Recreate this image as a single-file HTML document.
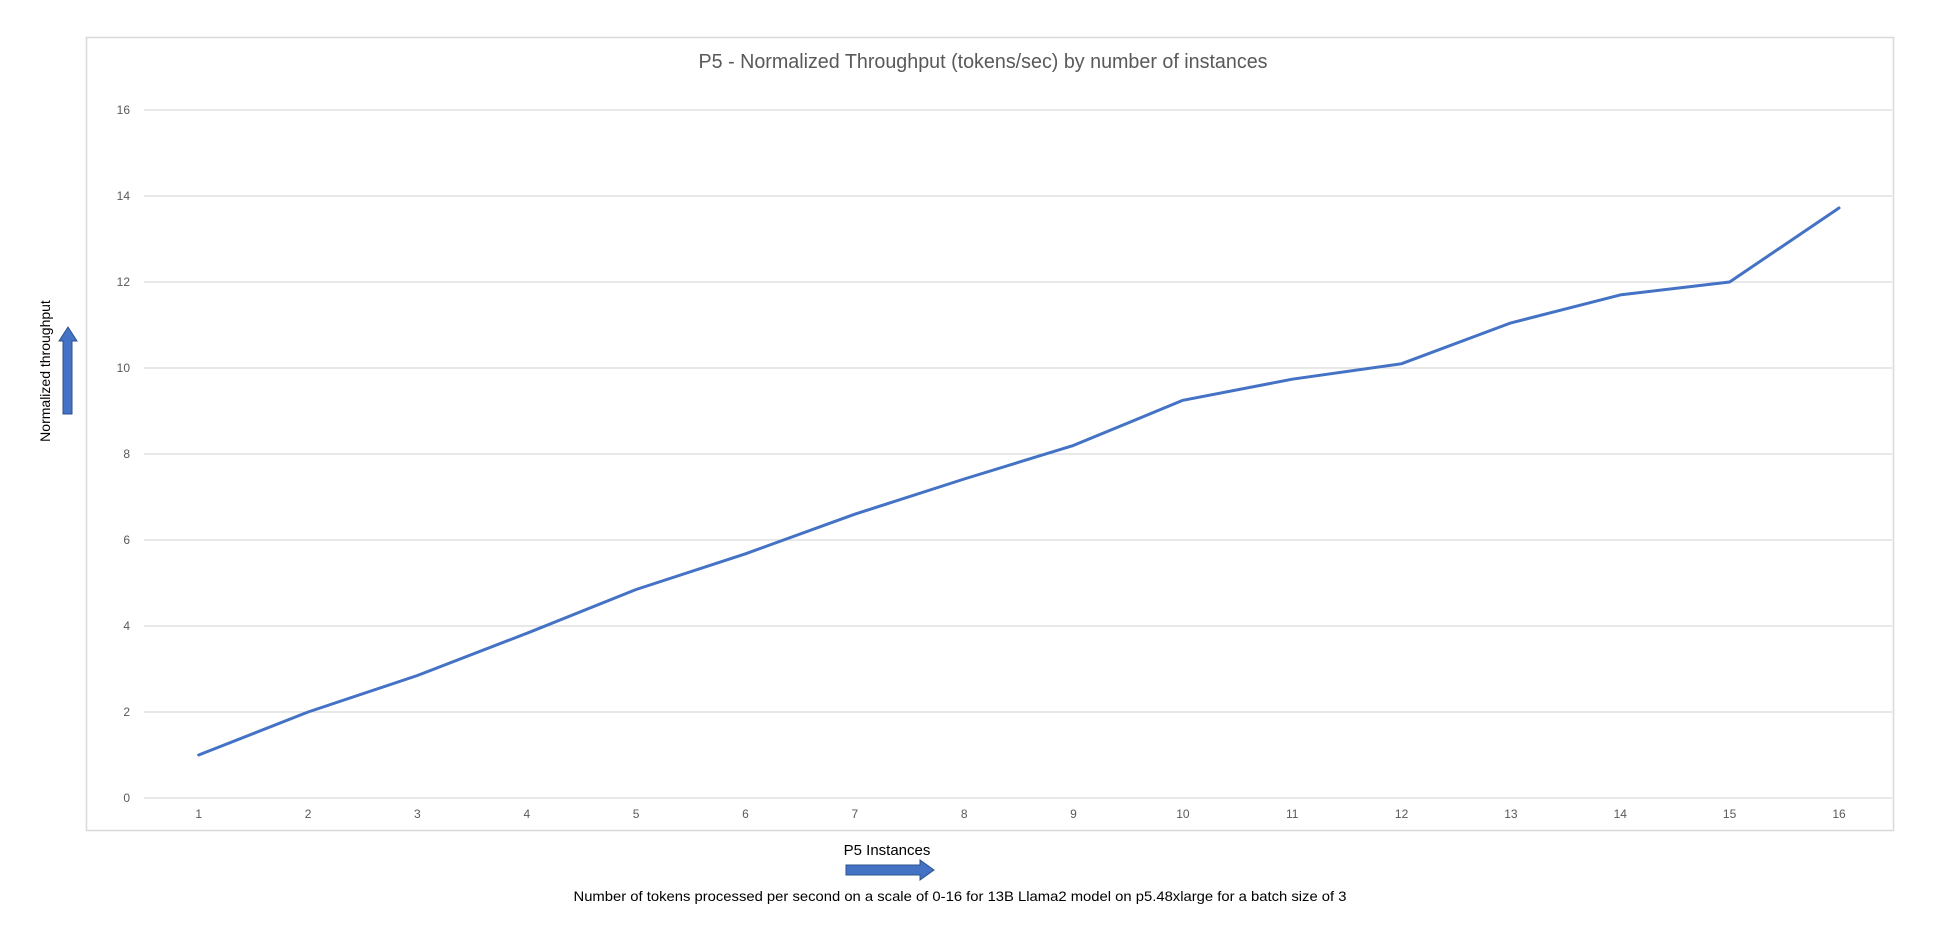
<!DOCTYPE html>
<html><head><meta charset="utf-8"><style>
html,body{margin:0;padding:0;background:#fff;}
svg{display:block;}
text{font-family:"Liberation Sans",sans-serif;}
</style></head><body>
<svg width="1938" height="942" viewBox="0 0 1938 942" xmlns="http://www.w3.org/2000/svg">
<rect x="86.5" y="37.5" width="1807" height="793" fill="#fff" stroke="#d9d9d9" stroke-width="1.5"/>
<text x="983" y="68" font-size="20" fill="#595959" text-anchor="middle" textLength="569" lengthAdjust="spacingAndGlyphs">P5 - Normalized Throughput (tokens/sec) by number of instances</text>
<g stroke="#d9d9d9" stroke-width="1.3">
<line x1="144" x2="1892" y1="110" y2="110"/>
<line x1="144" x2="1892" y1="196" y2="196"/>
<line x1="144" x2="1892" y1="282" y2="282"/>
<line x1="144" x2="1892" y1="368" y2="368"/>
<line x1="144" x2="1892" y1="454" y2="454"/>
<line x1="144" x2="1892" y1="540" y2="540"/>
<line x1="144" x2="1892" y1="626" y2="626"/>
<line x1="144" x2="1892" y1="712" y2="712"/>
<line x1="144" x2="1892" y1="798" y2="798"/>
</g>
<g font-size="12" fill="#595959" text-anchor="end">
<text x="130" y="114">16</text><text x="130" y="200">14</text><text x="130" y="286">12</text>
<text x="130" y="372">10</text><text x="130" y="458">8</text><text x="130" y="544">6</text>
<text x="130" y="630">4</text><text x="130" y="716">2</text><text x="130" y="802">0</text>
</g>
<g font-size="12" fill="#595959" text-anchor="middle">
<text x="198.7" y="818">1</text><text x="308.1" y="818">2</text><text x="417.4" y="818">3</text><text x="526.8" y="818">4</text>
<text x="636.1" y="818">5</text><text x="745.5" y="818">6</text><text x="854.8" y="818">7</text><text x="964.2" y="818">8</text>
<text x="1073.5" y="818">9</text><text x="1182.9" y="818">10</text><text x="1292.2" y="818">11</text><text x="1401.6" y="818">12</text>
<text x="1510.9" y="818">13</text><text x="1620.3" y="818">14</text><text x="1729.6" y="818">15</text><text x="1839" y="818">16</text>
</g>
<polyline fill="none" stroke="#4472C4" stroke-width="3" stroke-linejoin="round" stroke-linecap="round"
points="198.7,755 308.1,712 417.4,675.5 526.8,633.3 636.1,589.5 745.5,553.8 854.8,514.2 964.2,479 1073.5,445.4 1182.9,400.3 1292.2,379.2 1401.6,363.7 1510.9,322.9 1620.3,294.9 1729.6,282 1839,208"/>
<text transform="translate(50,371) rotate(-90)" font-size="14" fill="#000" text-anchor="middle">Normalized throughput</text>
<polygon points="63,414 72,414 72,341 77,341 68,327 59,341 63,341" fill="#4472C4" stroke="#2f528f" stroke-width="1"/>
<text x="887" y="855" font-size="15" fill="#000" text-anchor="middle">P5 Instances</text>
<polygon points="846,865 920,865 920,860 934,870 920,880 920,875 846,875" fill="#4472C4" stroke="#2f528f" stroke-width="1"/>
<text x="960" y="901" font-size="14" fill="#000" text-anchor="middle" textLength="773" lengthAdjust="spacingAndGlyphs">Number of tokens processed per second on a scale of 0-16 for 13B Llama2 model on p5.48xlarge for a batch size of 3</text>
</svg>
</body></html>
